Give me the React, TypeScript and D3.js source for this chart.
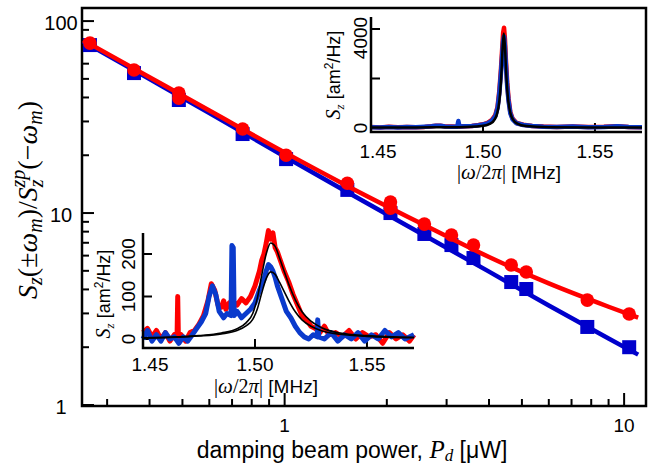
import React from 'react';
import * as d3 from 'd3';

// main panel: ratio vs damping beam power (log-log)
const redPower = [0.267, 0.36, 0.488, 0.488, 0.752, 1.01, 1.53, 2.05, 2.05, 2.58, 3.1, 3.6, 4.65, 5.15, 7.79, 10.35];
const redRatio = [76.8, 55.6, 42.2, 39.7, 27.4, 20.0, 14.3, 11.4, 10.6, 8.76, 7.68, 6.81, 5.36, 4.93, 3.52, 2.98];
const bluePower = [0.267, 0.36, 0.488, 0.752, 1.01, 1.53, 2.05, 2.58, 3.1, 3.6, 4.65, 5.15, 7.79, 10.35];
const blueRatio = [75.0, 53.6, 38.8, 25.8, 19.1, 13.2, 10.0, 7.78, 6.81, 5.83, 4.37, 4.02, 2.55, 2.0];
const fitPower = [0.255, 0.4, 0.6, 1.0, 1.5, 2.5, 4.0, 6.0, 9.0, 11.0];
const redFit = [79.5, 51.0, 34.2, 20.7, 14.1, 8.9, 5.9, 4.3, 3.25, 2.85];
const blueFit = [78.3, 49.9, 33.2, 19.7, 13.1, 7.9, 4.95, 3.3, 2.22, 1.83];

// upper inset spectrum (am^2/Hz vs MHz)
const topFreq = [1.45, 1.454, 1.458, 1.462, 1.466, 1.47, 1.474, 1.477, 1.479, 1.481, 1.483, 1.486, 1.4885, 1.489, 1.4895, 1.492, 1.495, 1.498, 1.5, 1.502, 1.504, 1.5055, 1.5065, 1.5073, 1.508, 1.5086, 1.509, 1.5094, 1.5098, 1.5102, 1.5108, 1.5114, 1.5122, 1.5132, 1.515, 1.518, 1.522, 1.527, 1.533, 1.54, 1.547, 1.554, 1.56, 1.565, 1.571];
const topRed = [40, 25, 50, 30, 40, 35, 45, 75, 90, 95, 65, 60, 55, 120, 65, 75, 85, 120, 150, 210, 330, 520, 860, 1500, 2350, 3250, 3850, 4050, 3600, 2800, 1850, 1200, 650, 380, 200, 130, 85, 60, 45, 65, 40, 50, 75, 45, 35];
const topBlue = [35, 20, 40, 25, 45, 30, 50, 70, 95, 90, 60, 55, 50, 280, 60, 70, 80, 110, 140, 190, 300, 480, 800, 1400, 2200, 3000, 3500, 3700, 3300, 2600, 1700, 1100, 600, 350, 190, 120, 80, 55, 40, 60, 35, 45, 70, 40, 30];
const topFitFreq = [1.45, 1.47, 1.4893, 1.4993, 1.5033, 1.5053, 1.5063, 1.5073, 1.5078, 1.5083, 1.5088, 1.5093, 1.5098, 1.5103, 1.5108, 1.5113, 1.5123, 1.5133, 1.5153, 1.5193, 1.5293, 1.5493, 1.571];
const topFit = [21, 24, 35, 78, 178, 358, 582, 1087, 1577, 2337, 3296, 3820, 3296, 2337, 1577, 1087, 582, 358, 178, 78, 35, 24, 21];

// lower inset spectrum
const lowRedFreq = [1.45, 1.452, 1.454, 1.456, 1.458, 1.46, 1.462, 1.464, 1.4652, 1.4655, 1.4658, 1.467, 1.469, 1.471, 1.473, 1.475, 1.477, 1.479, 1.4805, 1.482, 1.4835, 1.485, 1.486, 1.487, 1.4885, 1.49, 1.492, 1.494, 1.496, 1.498, 1.5, 1.502, 1.503, 1.504, 1.505, 1.506, 1.507, 1.508, 1.509, 1.51, 1.511, 1.513, 1.515, 1.517, 1.519, 1.521, 1.523, 1.525, 1.527, 1.529, 1.531, 1.533, 1.536, 1.539, 1.542, 1.545, 1.548, 1.551, 1.554, 1.557, 1.56, 1.563, 1.566, 1.569, 1.571];
const lowRed = [15, 25, 5, 20, 0, 15, -5, 10, 5, 100, 5, 10, -5, 15, 20, 35, 55, 90, 130, 115, 80, 75, 90, 70, 85, 90, 80, 95, 85, 100, 125, 160, 185, 200, 225, 255, 235, 250, 215, 205, 190, 160, 135, 105, 80, 55, 45, 30, 25, 15, 30, 10, 15, 5, 20, 0, 15, 5, 10, -10, 15, 0, 10, -5, 10];
const lowBlueFreq = [1.45, 1.452, 1.454, 1.456, 1.458, 1.46, 1.462, 1.464, 1.466, 1.468, 1.47, 1.472, 1.474, 1.476, 1.478, 1.4795, 1.481, 1.4825, 1.484, 1.486, 1.4875, 1.4893, 1.4897, 1.4903, 1.4907, 1.492, 1.494, 1.496, 1.498, 1.5, 1.502, 1.504, 1.505, 1.506, 1.507, 1.508, 1.509, 1.51, 1.512, 1.514, 1.516, 1.518, 1.52, 1.522, 1.524, 1.526, 1.5278, 1.528, 1.5285, 1.531, 1.534, 1.537, 1.54, 1.543, 1.546, 1.549, 1.552, 1.555, 1.558, 1.561, 1.564, 1.567, 1.571];
const lowBlue = [0, 20, -5, 10, -5, 15, 0, 5, -10, 5, -5, 10, 25, 40, 60, 100, 125, 105, 65, 50, 60, 55, 220, 215, 55, 65, 50, 60, 70, 85, 115, 140, 160, 175, 170, 160, 145, 125, 95, 65, 50, 30, 15, 5, 0, 10, 5, 45, 5, 0, 15, -5, 10, 0, 15, -5, 10, 0, 20, 5, 15, 0, 10];
const lowFitFreq = [1.45, 1.465, 1.475, 1.485, 1.492, 1.496, 1.499, 1.501, 1.503, 1.505, 1.507, 1.509, 1.511, 1.513, 1.515, 1.518, 1.521, 1.525, 1.53, 1.538, 1.55, 1.571];
const lowFitRed = [3, 5, 8, 14, 24, 38, 60, 95, 150, 200, 226, 218, 190, 160, 130, 92, 64, 42, 26, 14, 8, 4];
const lowFitBlue = [2, 4, 7, 12, 20, 31, 46, 70, 108, 142, 158, 152, 133, 112, 91, 64, 45, 30, 19, 11, 6, 3];

const insetXTicks = [1.45, 1.5, 1.55];
const topYTicks = [0, 2000, 4000];
const topYLabels = [0, 4000];
const lowYTicks = [0, 100, 200];

const RED = '#ff0000';
const BLUE = '#0000cc';
const BLUE2 = '#0a3acc';
const SANS = 'Liberation Sans, Arial, sans-serif';
const SERIF = 'Liberation Serif, Times New Roman, serif';

const W = 657;
const H = 466;
const box = { left: 82, top: 8, right: 646, bottom: 406 };

const x = d3.scaleLog().domain([0.253, 11.6]).range([box.left, box.right]);
const y = d3.scaleLog().domain([0.988, 117]).range([box.bottom, box.top]);
const isMajor = (t: number) => Math.abs(Math.log10(t) - Math.round(Math.log10(t))) < 1e-6;

type Inset = { left: number; top: number; bottom: number; right: number };

function InsetLabelX({ cx, cy }: { cx: number; cy: number }) {
  return (
    <text x={cx} y={cy} textAnchor="middle" fontFamily={SANS} fontSize={19}>
      <tspan fontFamily={SERIF} fontSize={20}>|</tspan>
      <tspan fontFamily={SERIF} fontStyle="italic" fontSize={21}>ω</tspan>
      <tspan fontFamily={SERIF} fontSize={20}>/2</tspan>
      <tspan fontFamily={SERIF} fontStyle="italic" fontSize={21}>π</tspan>
      <tspan fontFamily={SERIF} fontSize={20}>|</tspan>
      <tspan> [MHz]</tspan>
    </text>
  );
}

function InsetLabelY({ cx, cy }: { cx: number; cy: number }) {
  return (
    <text transform={`translate(${cx},${cy}) rotate(-90)`} textAnchor="middle" fontFamily={SANS} fontSize={18}>
      <tspan fontFamily={SERIF} fontStyle="italic" fontSize={20}>S</tspan>
      <tspan fontFamily={SERIF} fontStyle="italic" fontSize={13} dy={4}>z</tspan>
      <tspan dy={-4}> [am</tspan>
      <tspan fontSize={12} dy={-7}>2</tspan>
      <tspan dy={7}>/Hz]</tspan>
    </text>
  );
}

function Spectrum({
  b, xs, ys, freqR, valR, freqB, valB, fits, fitFreq, yTicks, yLabels, traceW, fitW, xLabelPos, yLabelPos, yTickLabelX, tickLabelDy,
}: {
  b: Inset; xs: d3.ScaleLinear<number, number>; ys: d3.ScaleLinear<number, number>;
  freqR: number[]; valR: number[]; freqB: number[]; valB: number[]; fits: number[][]; fitFreq: number[];
  yTicks: number[]; yLabels: number[]; traceW: number; fitW: number;
  xLabelPos: [number, number]; yLabelPos: [number, number]; yTickLabelX: number; tickLabelDy: number;
}) {
  const line = d3.line<[number, number]>().x((d) => xs(d[0])).y((d) => ys(d[1]));
  const smooth = d3.line<[number, number]>().x((d) => xs(d[0])).y((d) => ys(d[1])).curve(d3.curveMonotoneX);
  const zip = (a: number[], v: number[]) => a.map((f, i) => [f, v[i]] as [number, number]);
  return (
    <g>
      {insetXTicks.map((t) => (
        <line key={t} x1={xs(t)} x2={xs(t)} y1={b.bottom} y2={b.bottom - 9} stroke="#000" strokeWidth={2} />
      ))}
      {yTicks.map((t) => (
        <line key={t} x1={b.left} x2={b.left + 9} y1={ys(t)} y2={ys(t)} stroke="#000" strokeWidth={2} />
      ))}
      <path d={line(zip(freqR, valR)) || ''} fill="none" stroke={RED} strokeWidth={traceW} strokeLinejoin="round" />
      <path d={line(zip(freqB, valB)) || ''} fill="none" stroke={BLUE2} strokeWidth={traceW} strokeLinejoin="round" />
      {fits.map((f, i) => (
        <path key={i} d={smooth(zip(fitFreq, f)) || ''} fill="none" stroke="#000" strokeWidth={fitW} />
      ))}
      <path d={`M${b.left},${b.top}V${b.bottom}H${b.right}`} fill="none" stroke="#000" strokeWidth={2.5} />
      {insetXTicks.map((t, i) => (
        <text key={t} x={xs(t) + (i === 0 ? 7 : 0)} y={b.bottom + tickLabelDy} textAnchor="middle" fontFamily={SANS} fontSize={19}>
          {t.toFixed(2)}
        </text>
      ))}
      {yLabels.map((t) => {
        const half = String(t).length * 5;
        const cy = Math.max(ys(t), b.top + half + 1);
        return (
          <text key={t} transform={`translate(${yTickLabelX},${cy}) rotate(-90)`} textAnchor="middle" dy={7}
            fontFamily={SANS} fontSize={19}>
            {t}
          </text>
        );
      })}
      <InsetLabelX cx={xLabelPos[0]} cy={xLabelPos[1]} />
      <InsetLabelY cx={yLabelPos[0]} cy={yLabelPos[1]} />
    </g>
  );
}

export default function App() {
  const fitLine = d3.line<[number, number]>().x((d) => x(d[0])).y((d) => y(d[1])).curve(d3.curveMonotoneX);
  const redFitPts = fitPower.map((p, i) => [p, redFit[i]] as [number, number]);
  const blueFitPts = fitPower.map((p, i) => [p, blueFit[i]] as [number, number]);

  const topBox: Inset = { left: 371, top: 17, bottom: 132, right: 642 };
  const topX = d3.scaleLinear().domain([1.45, 1.571]).range([topBox.left, topBox.right]);
  const topY = d3.scaleLinear().domain([0, 4000]).range([128, 29]);

  const lowBox: Inset = { left: 143, top: 233, bottom: 348, right: 414 };
  const lowX = d3.scaleLinear().domain([1.45, 1.571]).range([lowBox.left, lowBox.right]);
  const lowY = d3.scaleLinear().domain([0, 200]).range([339, 254]);

  const xt = x.ticks();
  const yt = y.ticks();

  return (
    <svg width={W} height={H} style={{ position: 'absolute', left: 0, top: 0, background: '#fff' }}>
      <rect width={W} height={H} fill="#fff" />
      {/* main ticks (inward) */}
      {xt.map((t) => (
        <line key={`x${t}`} x1={x(t)} x2={x(t)} y1={box.bottom} y2={box.bottom - (isMajor(t) ? 13 : 7)} stroke="#000" strokeWidth={2} />
      ))}
      {yt.map((t) => (
        <line key={`y${t}`} x1={box.left} x2={box.left + (isMajor(t) ? 12 : 7)} y1={y(t)} y2={y(t)} stroke="#000" strokeWidth={2} />
      ))}
      <rect x={box.left} y={box.top} width={box.right - box.left} height={box.bottom - box.top} fill="none" stroke="#000" strokeWidth={2.5} />
      {xt.filter(isMajor).map((t) => (
        <text key={`xl${t}`} x={x(t)} y={box.bottom + 26} textAnchor="middle" fontFamily={SANS} fontSize={19}>{t}</text>
      ))}
      {yt.filter(isMajor).map((t) => (
        <text key={`yl${t}`} x={61} y={y(t) + 9} textAnchor="middle" fontFamily={SANS} fontSize={20}>{t}</text>
      ))}

      {/* fits and data */}
      <path d={fitLine(blueFitPts) || ''} stroke={BLUE} strokeWidth={4.5} fill="none" />
      {bluePower.map((p, i) => (
        <rect key={`b${i}`} x={x(p) - 7} y={y(blueRatio[i]) - 7} width={14} height={14} fill={BLUE} />
      ))}
      <path d={fitLine(redFitPts) || ''} stroke={RED} strokeWidth={4.5} fill="none" />
      {redPower.map((p, i) => (
        <circle key={`r${i}`} cx={x(p)} cy={y(redRatio[i])} r={6.8} fill={RED} />
      ))}

      <Spectrum b={topBox} xs={topX} ys={topY} freqR={topFreq} valR={topRed} freqB={topFreq} valB={topBlue}
        fits={[topFit]} fitFreq={topFitFreq} yTicks={topYTicks} yLabels={topYLabels} traceW={4.5} fitW={2.5}
        xLabelPos={[509, 179]} yLabelPos={[340, 75]} yTickLabelX={360} tickLabelDy={26} />
      <Spectrum b={lowBox} xs={lowX} ys={lowY} freqR={lowRedFreq} valR={lowRed} freqB={lowBlueFreq} valB={lowBlue}
        fits={[lowFitRed, lowFitBlue]} fitFreq={lowFitFreq} yTicks={lowYTicks} yLabels={lowYTicks} traceW={5} fitW={1.6}
        xLabelPos={[266, 393]} yLabelPos={[110, 294]} yTickLabelX={128} tickLabelDy={23} />

      {/* axis titles */}
      <text x={352} y={458} textAnchor="middle" fontFamily={SANS} fontSize={23}>
        damping beam power, <tspan fontFamily={SERIF} fontStyle="italic" fontSize={25}>P</tspan>
        <tspan fontFamily={SERIF} fontStyle="italic" fontSize={17} dy={3}>d</tspan>
        <tspan dy={-3}> [μW]</tspan>
      </text>
      <text transform="translate(37,200) rotate(-90)" textAnchor="middle" fontFamily={SERIF} fontSize={28}>
        <tspan fontStyle="italic">S</tspan>
        <tspan fontStyle="italic" fontSize={20} dy={5}>z</tspan>
        <tspan dy={-5}>(±</tspan>
        <tspan fontStyle="italic">ω</tspan>
        <tspan fontStyle="italic" fontSize={20} dy={5}>m</tspan>
        <tspan dy={-5}>)/</tspan>
        <tspan fontStyle="italic">S</tspan>
        <tspan fontStyle="italic" fontSize={20} dy={6}>z</tspan>
        <tspan fontStyle="italic" fontSize={20} dx={-8} dy={-18}>zp</tspan>
        <tspan dy={12}>(−</tspan>
        <tspan fontStyle="italic">ω</tspan>
        <tspan fontStyle="italic" fontSize={20} dy={5}>m</tspan>
        <tspan dy={-5}>)</tspan>
      </text>
    </svg>
  );
}
